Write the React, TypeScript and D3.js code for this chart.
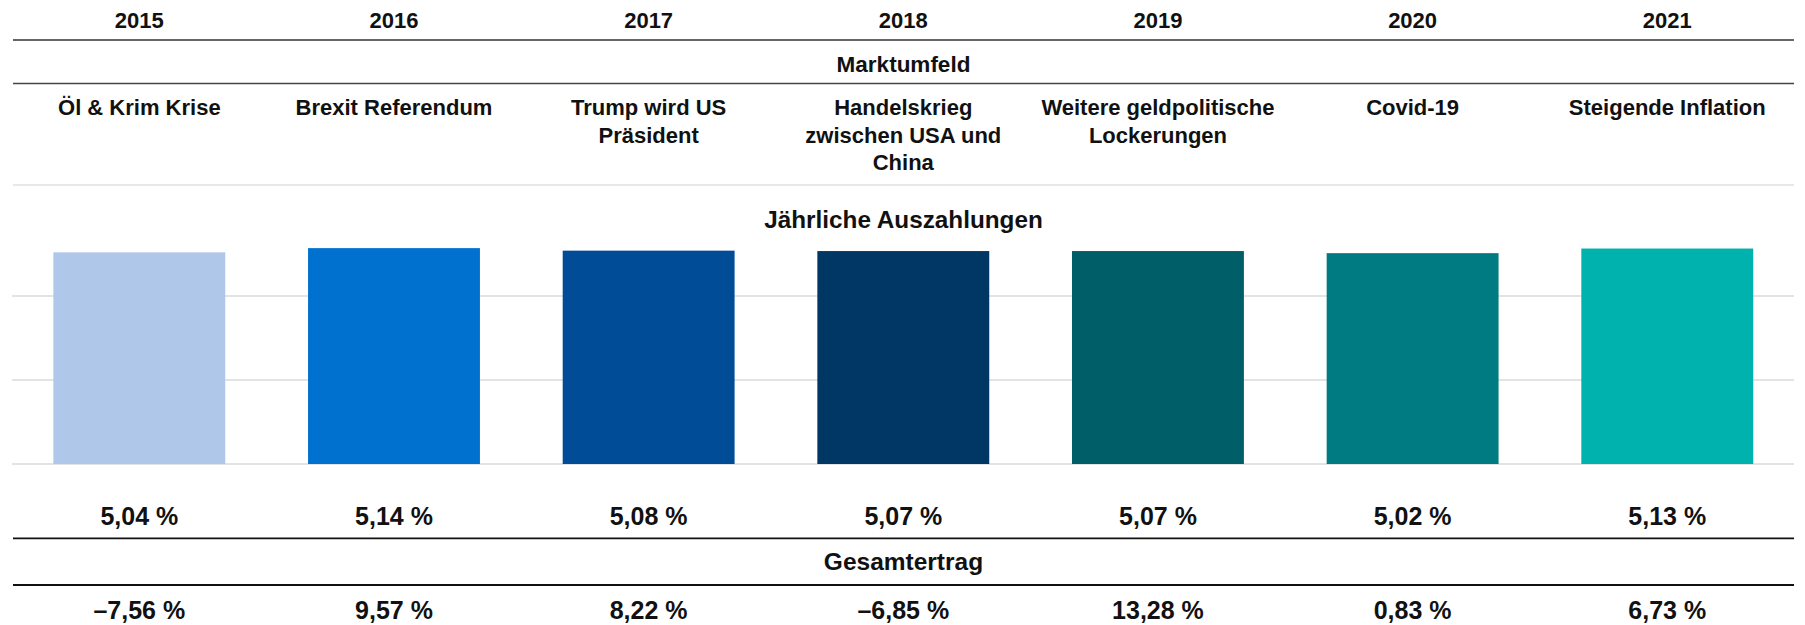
import React from "react";
import * as d3 from "d3";

const years = ["2015", "2016", "2017", "2018", "2019", "2020", "2021"];
const events: string[][] = [
  ["Öl & Krim Krise"],
  ["Brexit Referendum"],
  ["Trump wird US", "Präsident"],
  ["Handelskrieg", "zwischen USA und", "China"],
  ["Weitere geldpolitische", "Lockerungen"],
  ["Covid-19"],
  ["Steigende Inflation"],
];
const payouts = [5.04, 5.14, 5.08, 5.07, 5.07, 5.02, 5.13];
const totalReturns = [-7.56, 9.57, 8.22, -6.85, 13.28, 0.83, 6.73];
const barColors = ["#AFC8E9", "#0071CE", "#004C97", "#003764", "#005E68", "#007B82", "#00B2AE"];
const gridTicks = [0, 2, 4];

const W = 1805;
const H = 625;
const FONT = "'Liberation Sans', Arial, Helvetica, sans-serif";

const fmt = (v: number) =>
  (v < 0 ? "\u2013" : "") + Math.abs(v).toFixed(2).replace(".", ",") + " %";

export default function App() {
  const x = d3
    .scaleBand<string>()
    .domain(years)
    .range([12, 1794.6])
    .paddingInner(0.325)
    .paddingOuter(0.1625);
  const y = d3.scaleLinear().domain([0, 2]).range([464, 380]);
  const cx = (i: number) => (x(years[i]) as number) + x.bandwidth() / 2;
  const left = 13;
  const right = 1794;
  const mid = (left + right) / 2;

  return (
    <svg
      width={W}
      height={H}
      style={{ position: "absolute", left: 0, top: 0, background: "#fff" }}
      fontFamily={FONT}
      fontWeight="bold"
    >
      <rect width={W} height={H} fill="#fff" />
      {/* year header */}
      {years.map((yr, i) => (
        <text key={yr} x={cx(i)} y={27.5} textAnchor="middle" fontSize={22} fill="#111">
          {yr}
        </text>
      ))}
      <line x1={left} x2={right} y1={40} y2={40} stroke="#333" strokeWidth={1.6} />
      <text x={mid} y={71.7} textAnchor="middle" fontSize={22.5} fill="#111">
        Marktumfeld
      </text>
      <line x1={left} x2={right} y1={83.5} y2={83.5} stroke="#444" strokeWidth={1.6} />
      {events.map((lines, i) => (
        <text key={i} x={cx(i)} y={115} textAnchor="middle" fontSize={22} fill="#111">
          {lines.map((l, j) => (
            <tspan key={j} x={cx(i)} dy={j === 0 ? 0 : 27.5}>
              {l}
            </tspan>
          ))}
        </text>
      ))}
      <line x1={left} x2={right} y1={185} y2={185} stroke="#E0E0E0" strokeWidth={1.5} />
      <text x={mid} y={227.7} textAnchor="middle" fontSize={24.3} fill="#111">
        Jährliche Auszahlungen
      </text>
      {/* gridlines */}
      {gridTicks.map((t) => (
        <line key={t} x1={left - 1} x2={right} y1={y(t)} y2={y(t)} stroke="#DADADA" strokeWidth={1.5} />
      ))}
      {/* bars */}
      {payouts.map((v, i) => (
        <rect
          key={i}
          x={x(years[i])}
          y={y(v)}
          width={x.bandwidth()}
          height={y(0) - y(v)}
          fill={barColors[i]}
        />
      ))}
      {/* payout values */}
      {payouts.map((v, i) => (
        <text key={i} x={cx(i)} y={524.5} textAnchor="middle" fontSize={25} fill="#111">
          {fmt(v)}
        </text>
      ))}
      <line x1={left} x2={right} y1={538.3} y2={538.3} stroke="#111" strokeWidth={1.8} />
      <text x={mid} y={570} textAnchor="middle" fontSize={24.5} fill="#111">
        Gesamtertrag
      </text>
      <line x1={left} x2={right} y1={585} y2={585} stroke="#111" strokeWidth={1.8} />
      {totalReturns.map((v, i) => (
        <text key={i} x={cx(i)} y={618.5} textAnchor="middle" fontSize={25} fill="#111">
          {fmt(v)}
        </text>
      ))}
    </svg>
  );
}
